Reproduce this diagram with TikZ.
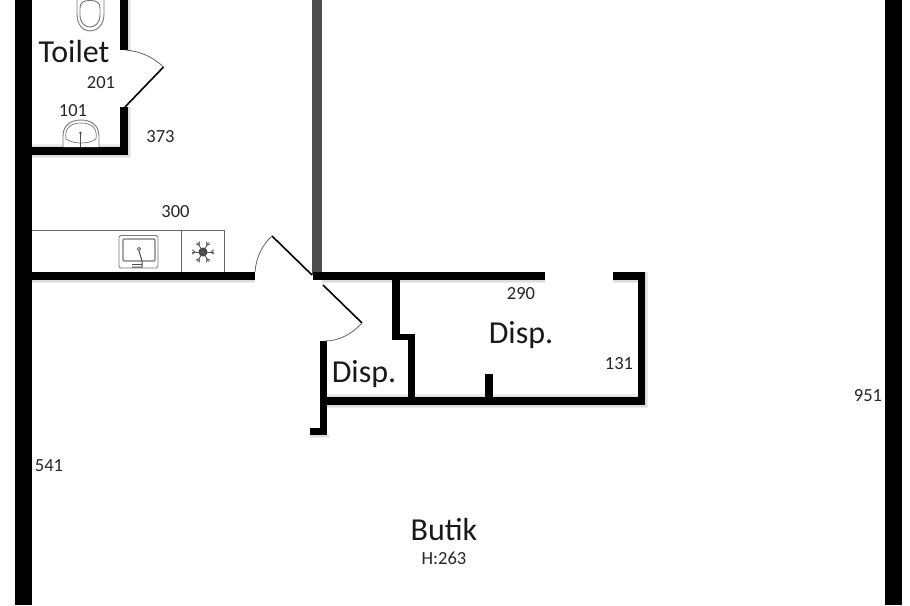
\documentclass[tikz,border=0pt]{standalone}
\usepackage{fontspec}
\setmainfont{Carlito}
\definecolor{wallgrey}{HTML}{4D4D4D}
\definecolor{fixture}{HTML}{777777}
\tikzset{
  x=1pt,y=-1pt,
  wall/.style={fill=black,draw=none},
  greywall/.style={fill=wallgrey,draw=none},
  doorleaf/.style={draw=black,line width=1.6pt},
  doorarc/.style={draw=black!60,line width=0.8pt},
  fix/.style={draw=fixture,line width=0.9pt,fill=white},
  counter/.style={draw=black!60,line width=0.9pt},
  room/.style={font=\fontsize{32}{34}\selectfont,text=black!90,inner sep=0pt},
  dim/.style={font=\fontsize{18.5}{20}\selectfont,text=black!85,inner sep=0pt},
  shade1/.style={fill=black,opacity=0.07},
}
\begin{document}
\begin{tikzpicture}
\useasboundingbox (0,0) rectangle (910,605);
\fill[white] (0,0) rectangle (910,605);
% soft wall shadows
\foreach \e in {1.5,3}{
\fill[shade1] (32,155) rectangle (128+\e,155+\e);
\fill[shade1] (128,0) rectangle (128+\e,50);
\fill[shade1] (128,107) rectangle (128+\e,155);
\fill[shade1] (32,280) rectangle (255,280+\e);
\fill[shade1] (322,280) rectangle (545,280+\e);
\fill[shade1] (613,280) rectangle (638,280+\e);
\fill[shade1] (645,272) rectangle (645+\e,405+\e);
\fill[shade1] (327,405) rectangle (645,405+\e);
\fill[shade1] (310,435) rectangle (327+\e,435+\e);
\fill[shade1] (32,147-\e) rectangle (120,147);
\fill[shade1] (327,397-\e) rectangle (638,397);
}
% outer walls
\fill[wall] (15,0) rectangle (32,605);
\fill[wall] (885,0) rectangle (902,605);
% toilet walls
\fill[wall] (120,0) rectangle (128,50);
\fill[wall] (120,107) rectangle (128,155);
\fill[wall] (32,147) rectangle (128,155);
% central wall
\fill[greywall] (312,0) rectangle (322,275);
% horizontal walls
\fill[wall] (32,272) rectangle (255,280);
\fill[wall] (313,272) rectangle (545,280);
\fill[wall] (613,272) rectangle (645,280);
\fill[wall] (638,272) rectangle (645,405);
\fill[wall] (320,397) rectangle (645,405);
\fill[wall] (485,374) rectangle (493,400);
\fill[wall] (392,280) rectangle (400,340);
\fill[wall] (392,334) rectangle (415,340);
\fill[wall] (408,334) rectangle (415,400);
\fill[wall] (320,341) rectangle (327,435);
\fill[wall] (310,428) rectangle (327,435);
% doors
\coordinate (d1a) at (125,107); \coordinate (d1b) at (163.5,67); \coordinate (d1c) at (125,50);
\draw[doorleaf] (d1a) -- (d1b);
\draw[doorarc] (d1c) .. controls (140,51) and (153,57) .. (d1b);
\coordinate (d2a) at (312,275); \coordinate (d2b) at (272,236); \coordinate (d2c) at (255,272);
\draw[doorleaf] (d2a) -- (d2b);
\draw[doorarc] (d2c) .. controls (256,258) and (262,245) .. (d2b);
\coordinate (d3a) at (323,285); \coordinate (d3b) at (362,323); \coordinate (d3c) at (325,341);
\draw[doorleaf] (d3a) -- (d3b);
\draw[doorarc] (d3c) .. controls (339,341) and (352,334) .. (d3b);
% toilet bowl
\draw[fix] (77,0) -- (77,14) .. controls (77,25) and (83,31) .. (90,31) .. controls (97,31) and (104,25) .. (104,14) -- (104,0);
\draw[fix] (80,8) .. controls (80,2) and (84,0.5) .. (90,0.5) .. controls (96,0.5) and (100,2) .. (100,8) -- (100,15) .. controls (100,23) and (95,27) .. (90,27) .. controls (85,27) and (80,23) .. (80,15) -- cycle;
% wash basin
\draw[fix] (63,147) -- (63,136) .. controls (63,125) and (71,120) .. (81,120) .. controls (91,120) and (99,125) .. (99,136) -- (99,147);
\draw[fixture,line width=0.7pt] (66,139) .. controls (64,127) and (72,123) .. (81,123) .. controls (90,123) and (98,127) .. (96,139) .. controls (92,142) and (86,143) .. (81,143) .. controls (76,143) and (70,142) .. (66,139);
\draw[black!70,line width=1.4pt] (80.5,134) -- (80.5,147);
\fill[black!70] (80.5,133) circle (1.3);
% kitchen counter
\draw[counter] (32,230) -- (224,230) -- (224,272);
\draw[counter] (181,230) -- (181,272);
% sink
\draw[fixture,line width=0.9pt,rounded corners=1.5pt] (119,235.5) rectangle (158,268);
\draw[fixture,line width=1.2pt,rounded corners=1pt] (123,239) rectangle (155,261);
\draw[black!70,line width=0.7pt] (139,249) circle (1.6);
\draw[black!70,line width=1pt] (139,251) -- (142,261) -- (142,267) -- (132,267);
\draw[black!70,line width=1pt] (132,264) -- (142,264);
% freezer symbol
\fill[black!75] (203,252) circle (4.5);
\foreach \a in {0,60,120,180,240,300}{
  \draw[black!65,line width=0.9pt] (203,252) -- ++(\a:11);
  \draw[black!65,line width=0.9pt] ([shift={(\a:8)}]203,252) -- ++(\a+40:3.5);
  \draw[black!65,line width=0.9pt] ([shift={(\a:8)}]203,252) -- ++(\a-40:3.5);
}
% labels
\node[room] (toilet) at (74,51.5) {Toilet};
\node[room] (disp1) at (521,335) {Disp.};
\node[room] (disp2) at (364,374) {Disp.};
\node[room] (butik) at (444,530) {Butik};
\node[dim] (h) at (444,558) {H:263};
\node[dim] (n201) at (101,83) {201};
\node[dim] (n101) at (73,111) {101};
\node[dim] (n373) at (160.5,137) {373};
\node[dim] (n300) at (175.5,212) {300};
\node[dim] (n290) at (521,294) {290};
\node[dim] (n131) at (619,364) {131};
\node[dim] (n951) at (868,396) {951};
\node[dim] (n541) at (49,466) {541};
\end{tikzpicture}
\end{document}
